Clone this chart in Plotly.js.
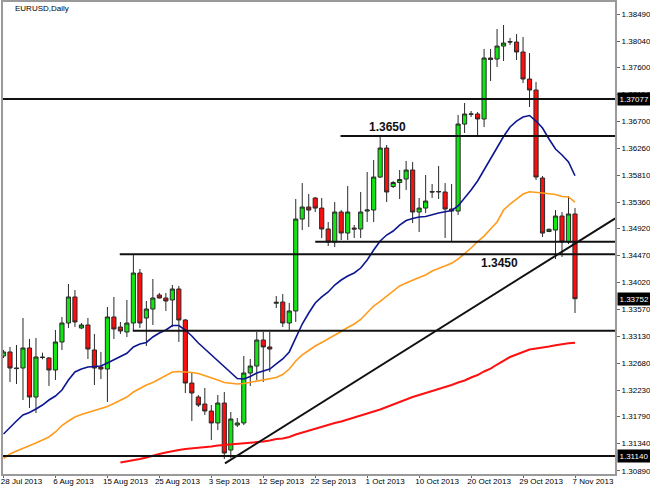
<!DOCTYPE html>
<html><head><meta charset="utf-8">
<script src="https://cdn.plot.ly/plotly-3.0.1.min.js"></script>
<style>html,body{margin:0;padding:0;background:#fff}#chart{width:650px;height:488px}</style>
</head><body><div id="chart"></div>
<script>
const dates = [
'2013-07-28','2013-07-29','2013-07-30','2013-07-31','2013-08-01','2013-08-02',
'2013-08-04','2013-08-05','2013-08-06','2013-08-07','2013-08-08','2013-08-09',
'2013-08-11','2013-08-12','2013-08-13','2013-08-14','2013-08-15','2013-08-16',
'2013-08-18','2013-08-19','2013-08-20','2013-08-21','2013-08-22','2013-08-23',
'2013-08-25','2013-08-26','2013-08-27','2013-08-28','2013-08-29','2013-08-30',
'2013-09-01','2013-09-02','2013-09-03','2013-09-04','2013-09-05','2013-09-06',
'2013-09-08','2013-09-09','2013-09-10','2013-09-11','2013-09-12','2013-09-13',
'2013-09-15','2013-09-16','2013-09-17','2013-09-18','2013-09-19','2013-09-20',
'2013-09-22','2013-09-23','2013-09-24','2013-09-25','2013-09-26','2013-09-27',
'2013-09-29','2013-09-30','2013-10-01','2013-10-02','2013-10-03','2013-10-04',
'2013-10-06','2013-10-07','2013-10-08','2013-10-09','2013-10-10','2013-10-11',
'2013-10-13','2013-10-14','2013-10-15','2013-10-16','2013-10-17','2013-10-18',
'2013-10-20','2013-10-21','2013-10-22','2013-10-23','2013-10-24','2013-10-25',
'2013-10-27','2013-10-28','2013-10-29','2013-10-30','2013-10-31','2013-11-01',
'2013-11-03','2013-11-04','2013-11-05','2013-11-06','2013-11-07'];

const open = [1.32799,1.32866,1.32600,1.32599,1.32932,1.32116,1.32782,1.32766,1.32566,1.33032,
1.33348,1.33781,1.33265,1.33315,1.32899,1.32616,1.32582,1.33448,1.33281,1.33198,
1.33348,1.34180,1.33431,1.33581,1.33814,1.33764,1.33731,1.33914,1.33398,1.32349,
1.32116,1.32000,1.31883,1.31684,1.32016,1.31234,1.31650,1.31684,1.32516,1.32632,
1.33065,1.32949,1.33676,1.33697,1.33348,1.33548,1.35078,1.35278,1.35428,1.35261,
1.34912,1.34696,1.35195,1.34845,1.34928,1.34912,1.35211,1.35228,1.35777,1.36260,
1.35619,1.35686,1.35744,1.35894,1.35195,1.35261,1.35536,1.35528,1.35528,1.35245,
1.35211,1.36659,1.36821,1.36826,1.36743,1.37758,1.37741,1.37957,1.38032,1.38024,
1.37858,1.37408,1.37225,1.35761,1.34870,1.34895,1.35128,1.34696,1.35162];

const high = [1.32899,1.32949,1.32982,1.33431,1.33082,1.33098,1.32854,1.32782,1.33231,1.33448,
1.33997,1.33897,1.33348,1.33431,1.33165,1.32866,1.33614,1.33781,1.33365,1.33731,
1.34496,1.34246,1.33714,1.34080,1.33847,1.33847,1.33980,1.33964,1.33414,1.32516,
1.32149,1.32266,1.31983,1.32149,1.32199,1.31867,1.31767,1.32799,1.32749,1.33198,
1.33198,1.33198,1.33797,1.33830,1.33681,1.35411,1.35677,1.35494,1.35444,1.35428,
1.35029,1.35361,1.35228,1.35627,1.34978,1.35528,1.35861,1.36060,1.36443,1.36310,
1.35711,1.35894,1.36044,1.36027,1.35428,1.35811,1.35661,1.35961,1.35677,1.35661,
1.36809,1.37009,1.36876,1.36859,1.37908,1.37908,1.38240,1.38307,1.38091,1.38157,
1.38107,1.37841,1.37358,1.35794,1.34920,1.35228,1.35195,1.35461,1.35261];

const low = [1.32766,1.32366,1.32333,1.32066,1.31933,1.31850,1.32744,1.32300,1.32399,1.32899,
1.33265,1.33281,1.33248,1.32749,1.32316,1.32416,1.32033,1.33082,1.33165,1.33115,
1.33231,1.33265,1.32965,1.33315,1.33755,1.33548,1.33281,1.33032,1.32183,1.31717,
1.31950,1.31817,1.31401,1.31567,1.31085,1.31101,1.31617,1.31650,1.32300,1.32399,
1.32366,1.32533,1.33598,1.33281,1.33231,1.33365,1.34895,1.34945,1.35195,1.34762,
1.34629,1.34613,1.34729,1.34729,1.34762,1.34762,1.35029,1.35029,1.35761,1.35361,
1.35594,1.35411,1.35561,1.35012,1.34862,1.35178,1.35428,1.35411,1.34762,1.34696,
1.35145,1.36510,1.36776,1.36476,1.36610,1.37375,1.37608,1.37708,1.37974,1.37725,
1.37342,1.36942,1.35727,1.34779,1.34862,1.34413,1.34446,1.34662,1.33514];

const close = [1.32866,1.32599,1.32590,1.32932,1.32116,1.32782,1.32774,1.32566,1.33032,1.33348,
1.33781,1.33365,1.33315,1.32915,1.32599,1.32582,1.33448,1.33248,1.33215,1.33348,
1.34180,1.33348,1.33581,1.33764,1.33764,1.33714,1.33914,1.33398,1.32349,1.32183,
1.31983,1.31883,1.31684,1.32016,1.31184,1.31750,1.31684,1.32516,1.32632,1.33065,
1.32949,1.32915,1.33692,1.33348,1.33548,1.35078,1.35278,1.35228,1.35261,1.34912,
1.34696,1.35195,1.34845,1.35195,1.34912,1.35195,1.35228,1.35777,1.36260,1.35528,
1.35686,1.35736,1.35894,1.35195,1.35261,1.35378,1.35528,1.35536,1.35245,1.35211,
1.36659,1.36826,1.36826,1.36743,1.37758,1.37733,1.37957,1.38007,1.38024,1.37858,
1.37408,1.37225,1.35777,1.34845,1.34907,1.35128,1.34696,1.35162,1.33752];

const maBlue = [1.31500,1.31617,1.31717,1.31817,1.31858,1.31917,1.31983,1.32066,1.32133,1.32233,
1.32399,1.32533,1.32582,1.32616,1.32621,1.32632,1.32682,1.32732,1.32782,1.32844,
1.32949,1.32999,1.33024,1.33115,1.33181,1.33231,1.33306,1.33306,1.33231,1.33132,
1.33015,1.32915,1.32816,1.32716,1.32616,1.32507,1.32424,1.32416,1.32457,1.32516,
1.32549,1.32582,1.32666,1.32749,1.32866,1.33098,1.33331,1.33514,1.33681,1.33781,
1.33864,1.33980,1.34063,1.34130,1.34180,1.34263,1.34396,1.34563,1.34713,1.34812,
1.34879,1.34978,1.35053,1.35087,1.35111,1.35120,1.35153,1.35178,1.35200,1.35220,
1.35295,1.35420,1.35561,1.35711,1.35894,1.36094,1.36260,1.36451,1.36610,1.36709,
1.36776,1.36801,1.36709,1.36593,1.36410,1.36243,1.36144,1.36027,1.35799];

const maOrange = [1.31093,1.31168,1.31218,1.31259,1.31301,1.31351,1.31401,1.31451,1.31534,1.31642,
1.31717,1.31784,1.31825,1.31858,1.31892,1.31917,1.31958,1.32008,1.32066,1.32116,
1.32199,1.32258,1.32316,1.32357,1.32416,1.32474,1.32533,1.32541,1.32537,1.32524,
1.32507,1.32474,1.32441,1.32399,1.32357,1.32341,1.32333,1.32341,1.32361,1.32383,
1.32399,1.32424,1.32441,1.32491,1.32582,1.32716,1.32816,1.32890,1.32965,1.33024,
1.33082,1.33140,1.33206,1.33273,1.33331,1.33406,1.33514,1.33631,1.33706,1.33789,
1.33880,1.33964,1.34013,1.34063,1.34105,1.34147,1.34213,1.34255,1.34296,1.34341,
1.34413,1.34504,1.34596,1.34704,1.34795,1.34912,1.35029,1.35228,1.35328,1.35411,
1.35494,1.35533,1.35528,1.35511,1.35498,1.35486,1.35453,1.35445,1.35361];

const maRed = [null,null,null,null,null,null,null,null,null,null,
null,null,null,null,null,null,null,null,1.31026,1.31043,
1.31060,1.31085,1.31110,1.31143,1.31168,1.31193,1.31218,1.31234,1.31251,1.31259,
1.31272,1.31284,1.31292,1.31309,1.31317,1.31326,1.31337,1.31347,1.31359,1.31367,
1.31376,1.31392,1.31417,1.31426,1.31451,1.31492,1.31526,1.31559,1.31584,1.31617,
1.31650,1.31684,1.31709,1.31742,1.31775,1.31800,1.31834,1.31867,1.31908,1.31950,
1.31992,1.32038,1.32083,1.32116,1.32149,1.32183,1.32208,1.32249,1.32283,1.32316,
1.32357,1.32391,1.32441,1.32482,1.32541,1.32590,1.32657,1.32723,1.32782,1.32824,
1.32866,1.32907,1.32924,1.32937,1.32957,1.32977,1.32999,1.33010,1.33020];

const tickDates = ['2013-07-28','2013-08-06','2013-08-15','2013-08-25','2013-09-03','2013-09-12',
'2013-09-22','2013-10-01','2013-10-10','2013-10-20','2013-10-29','2013-11-07'];
const tickLabels = ['28 Jul 2013','6 Aug 2013','15 Aug 2013','25 Aug 2013','3 Sep 2013','12 Sep 2013',
'22 Sep 2013','1 Oct 2013','10 Oct 2013','20 Oct 2013','29 Oct 2013','7 Nov 2013'];
const yTicks = [1.38490,1.38040,1.37600,1.37150,1.36700,1.36260,1.35810,1.35360,1.34920,
1.34470,1.34020,1.33570,1.33130,1.32680,1.32230,1.31790,1.31340,1.30890];

// horizontal levels: price, starting bar position
const levelPrices = [1.37077, 1.36460, 1.34701, 1.34491, 1.33220, 1.31134];
const levelStarts = [-1, 51.9, 48.0, 17.9, 19.9, -1];
// trend line
const trendX = [34.1, 94.2];
const trendY = [1.31013, 1.35090];
// price marks on the axis
const markPrices = [1.37077, 1.33752, 1.31140];
// level notes
const noteText = ['1.3650', '1.3450'];
const noteX = [59.2, 76.3];
const noteY = [1.36615, 1.34351];

const FONT = 'Liberation Sans, Arial, sans-serif';
const idx = dates.map((d, i) => i);
const xRight = 94.16;

const traces = [
  {type:'scatter', mode:'lines', x: idx, y: maRed, line:{color:'#ff1010', width:2}, hoverinfo:'skip'},
  {type:'scatter', mode:'lines', x: idx, y: maOrange, line:{color:'#ff9a1a', width:1.6}, hoverinfo:'skip'},
  {type:'scatter', mode:'lines', x: idx, y: maBlue, line:{color:'#0c1690', width:1.6}, hoverinfo:'skip'},
  {type:'candlestick', x: idx, open: open, high: high, low: low, close: close,
   increasing:{line:{color:'#2a2a2a', width:1}, fillcolor:'#12e612'},
   decreasing:{line:{color:'#2a2a2a', width:1}, fillcolor:'#ff0d0d'},
   whiskerwidth: 0, hoverinfo:'skip'}
];

const shapes = levelPrices.map((p, i) => ({type:'line', xref:'x', yref:'y',
  x0: levelStarts[i], x1: xRight + 1, y0: p, y1: p, line:{color:'#111', width:2}}));
shapes.push({type:'line', xref:'x', yref:'y', x0: trendX[0], x1: trendX[1], y0: trendY[0], y1: trendY[1],
  line:{color:'#111', width:2}});

const annotations = markPrices.map(p => ({xref:'paper', x:1, xanchor:'left', xshift:2, yref:'y', y:p,
  text: p.toFixed(5), showarrow:false, bgcolor:'#000', borderpad:1.5,
  font:{family:FONT, size:8, color:'#fff'}}));
noteText.forEach((t, i) => annotations.push({xref:'x', yref:'y', x: noteX[i], y: noteY[i], text:'<b>'+t+'</b>',
  showarrow:false, font:{family:FONT, size:12, color:'#111'}}));

const layout = {
  width:650, height:488, paper_bgcolor:'#fff', plot_bgcolor:'#fff',
  margin:{l:3, r:35, t:2, b:14},
  showlegend:false,
  boxgap:0.2, boxgroupgap:0.2,
  font:{family:FONT, size:8, color:'#000'},
  title:{text:'EURUSD,Daily', font:{family:FONT, size:8, color:'#000'},
    xref:'container', yref:'container', x:15/650, xanchor:'left', y:1-8/488, yanchor:'middle'},
  xaxis:{range:[-0.077, xRight], tickvals: tickDates.map(d => dates.indexOf(d)), ticktext: tickLabels,
    ticks:'outside', ticklen:2, tickcolor:'#666', ticklabelshift:18, ticklabelstandoff:-4,
    showgrid:false, zeroline:false, showline:true, mirror:true, linecolor:'#9a9a9a', linewidth:2,
    rangeslider:{visible:false}, tickfont:{family:FONT, size:8, color:'#000'}, fixedrange:true},
  yaxis:{side:'right', range:[1.30835, 1.38690], tickvals: yTicks, ticktext: yTicks.map(v => v.toFixed(5)),
    ticks:'outside', ticklen:3, tickcolor:'#666',
    showgrid:false, zeroline:false, showline:true, mirror:true, linecolor:'#9a9a9a', linewidth:2,
    tickfont:{family:FONT, size:8, color:'#000'}, fixedrange:true},
  shapes: shapes,
  annotations: annotations
};

Plotly.newPlot('chart', traces, layout, {displayModeBar:false, staticPlot:true});
</script></body></html>
